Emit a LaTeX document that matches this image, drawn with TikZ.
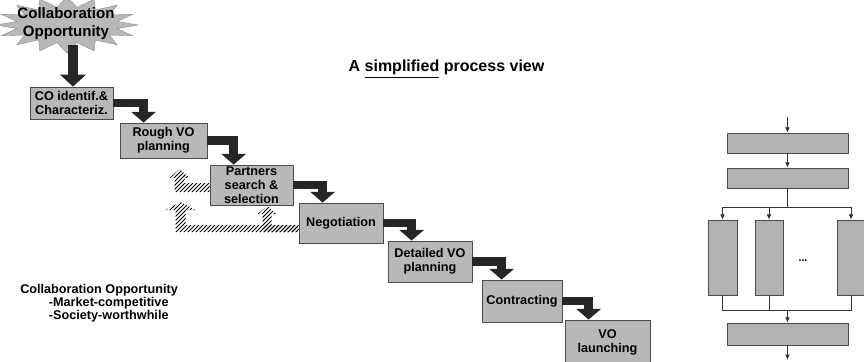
\documentclass[tikz,border=0pt]{standalone}
\usepackage{fontspec}
\setmainfont{Liberation Sans}
\usetikzlibrary{arrows.meta,calc}
\begin{document}
\begin{tikzpicture}[x=0.75pt,y=-0.75pt,
  box/.style={draw=black!70, fill=black!28, line width=0.6pt, inner sep=0pt, align=center, font=\bfseries\fontsize{9.5}{10.5}\selectfont},
  sz/.style 2 args={minimum width=#1*0.75pt, minimum height=#2*0.75pt},
  blk/.style={draw=black!85, line width=6.5pt, -{Triangle[width=18pt,length=8pt]}},
  hline/.style={draw=black, line width=0.75pt},
  rbox/.style={draw=black!70, fill=black!30, line width=0.5pt, inner sep=0pt},
  thinln/.style={draw=black!80, line width=0.6pt},
  tarr/.style={thinln, -{Latex[length=4pt,width=3.5pt]}}
]
\useasboundingbox (0,0) rectangle (864,361);

% starburst
\fill[black!28, draw=black!45, line width=0.3pt] (138,25)
  \foreach \i in {1,...,31} { -- ({67+(61+10*cos(\i*180))*cos(\i*11.25)}, {25+(23+5*cos(\i*180))*sin(\i*11.25)}) } -- cycle;
\node[font=\bfseries\fontsize{11.3}{13.5}\selectfont, align=center] (co) at (66,24) {Collaboration\\Opportunity};

% title
\node[font=\bfseries\fontsize{12}{14}\selectfont] (title) at (446.5,69) {A \underline{simplified} process view};

% process boxes
\node[box, sz={83}{32}] (b1) at (71.5,103) {CO identif.\&\\Characteriz.};
\node[box, sz={87}{35}] (b2) at (163.5,140.5) {Rough VO\\planning};
\node[box, sz={83}{40}] (b3) at (251.5,185) {Partners\\search \&\\selection};
\node[box, sz={84}{40}] (b4) at (341,223) {Negotiation};
\node[box, sz={84}{41}] (b5) at (430,261.5) {Detailed VO\\planning};
\node[box, sz={80}{42}] (b6) at (522,301) {Contracting};
\node[box, sz={85}{44}] (b7) at (607.5,342) {VO\\launching};

% black block arrows
\coordinate (s0) at (73,45);
\draw[blk, line width=8pt, -{Triangle[width=19pt,length=9pt]}] (s0) -- (s0 |- b1.north);
\draw[blk] (b1.east) -| ([xshift=18pt]b2.north west);
\draw[blk] (b2.east) -| ([xshift=18pt]b3.north west);
\draw[blk] (b3.east) -| ([xshift=18pt]b4.north west);
\draw[blk] (b4.east) -| ([xshift=18pt]b5.north west);
\draw[blk] (b5.east) -| ([xshift=15pt]b6.north west);
\draw[blk] (b6.east) -| ([xshift=18pt]b7.north west);

% hatched feedback arrows (clipped diagonal strokes)
\begin{scope}
  \clip ([yshift=1.5pt]b3.west) -- ++(-25,0) -- ++(0,-5) -- ++(5,0) -- ++(-10,-9) -- ++(-10,9) -- ++(5,0) -- ++(0,14) -- ++(35,0) -- cycle;
  \foreach \k in {100,104,...,320} { \draw[hline] (\k,240) -- ++(80,-80); }
\end{scope}
\begin{scope}
  \clip ([yshift=-1.5pt]b4.west) -- ++(-113,0) -- ++(0,-15) -- ++(10,0) -- ++(-15,-8) -- ++(-15,8) -- ++(10,0) -- ++(0,22) -- ++(123,0) -- cycle;
  \foreach \k in {100,104,...,320} { \draw[hline] (\k,240) -- ++(80,-80); }
\end{scope}
\begin{scope}
  \clip ([yshift=-1.5pt]b4.west) -- ++(-27,0) -- ++(0,-11) -- ++(5,0) -- ++(-9.5,-8) -- ++(-9.5,8) -- ++(5,0) -- ++(0,18) -- ++(36,0) -- cycle;
  \foreach \k in {100,104,...,320} { \draw[hline] (\k,240) -- ++(80,-80); }
\end{scope}

% bottom-left text
\node[anchor=north west, align=left, inner sep=0pt, font=\bfseries\fontsize{9.5}{9.75}\selectfont] (note) at (20,284)
  {Collaboration Opportunity\\\hspace*{21.5pt}-Market-competitive\\\hspace*{21.5pt}-Society-worthwhile};

% right diagram
\node[rbox, sz={121}{20}] (ra) at (787.5,143) {};
\node[rbox, sz={121}{20}] (rb) at (787.5,178) {};
\node[rbox, sz={29}{75}] (c1) at (722.5,257.5) {};
\node[rbox, sz={28}{75}] (c2) at (769,257.5) {};
\node[rbox, sz={28}{75}] (c3) at (851,257.5) {};
\node[font=\bfseries\fontsize{8}{9}\selectfont] (dots) at (803,261) {...};
\node[rbox, sz={121}{22}] (rc) at (787.5,334) {};

\coordinate (top) at (787.5,117);
\coordinate (br) at (787.5,207);
\coordinate (jn) at (787.5,310);
\coordinate (bot) at (787.5,360);

\draw[tarr] (top) -- (ra.north);
\draw[tarr] (ra.south) -- (rb.north);
\draw[thinln] (rb.south) -- (br);
\draw[tarr] (br) -| (c1.north);
\draw[tarr] (br) -| (c3.north);
\draw[tarr] (c2.north |- br) -- (c2.north);
\draw[thinln] (c1.south) |- (jn);
\draw[thinln] (c3.south) |- (jn);
\draw[thinln] (c2.south) -- (c2.south |- jn);
\draw[tarr] (jn) -- (rc.north);
\draw[tarr] (rc.south) -- (bot);
\end{tikzpicture}
\end{document}
